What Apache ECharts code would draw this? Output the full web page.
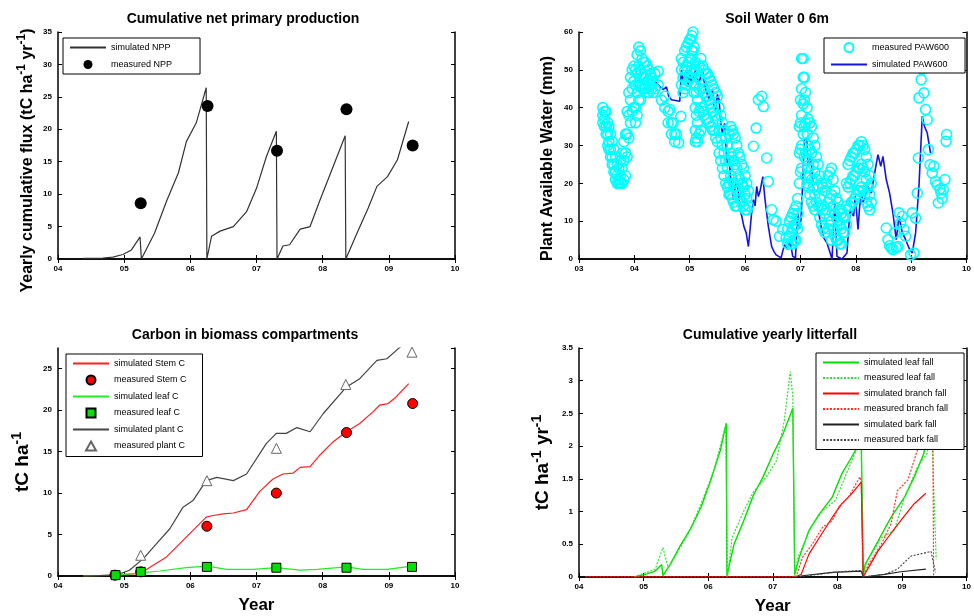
<!DOCTYPE html>
<html>
<head>
<meta charset="utf-8">
<script src="https://cdn.jsdelivr.net/npm/echarts@6/dist/echarts.min.js"></script>
<style>
  html, body { margin: 0; padding: 0; background: #fff; }
  #chart { width: 974px; height: 616px; }
</style>
</head>
<body>
<div id="chart"></div>
<script>
// tick labels
const yearTicks = ['04', '05', '06', '07', '08', '09', '10'];      // 2004..2010
const yearTicksSoil = ['03', '04', '05', '06', '07', '08', '09', '10']; // 2003..2010

// --- Cumulative net primary production ---
const nppSim = [
  [2004.38, 0.1], [2004.68, 0.15], [2004.83, 0.3], [2004.98, 0.7], [2005.11, 1.4], [2005.24, 3.4], [2005.26, 0],
  [2005.46, 4.0], [2005.64, 8.9], [2005.82, 13.3], [2005.94, 18.1], [2006.09, 21.0], [2006.24, 26.4], [2006.25, 0],
  [2006.32, 3.5], [2006.45, 4.3], [2006.65, 5.0], [2006.85, 7.3], [2007.0, 10.9], [2007.15, 15.8], [2007.30, 19.7], [2007.31, 0],
  [2007.40, 2.0], [2007.50, 2.2], [2007.66, 4.6], [2007.81, 5.0], [2007.96, 9.1], [2008.11, 13.0], [2008.34, 19.0], [2008.35, 0],
  [2008.52, 4.0], [2008.69, 7.9], [2008.82, 11.2], [2008.98, 12.7], [2009.13, 15.3], [2009.30, 21.2]
];
const nppMeas = [[2005.25, 8.6], [2006.26, 23.6], [2007.31, 16.7], [2008.36, 23.1], [2009.36, 17.5]];

// --- Soil water 0-6 m (PAW, mm) ---
const pawSim = [
  [2004.37, 47.0], [2004.46, 45.6], [2004.52, 44.8], [2004.58, 45.5], [2004.62, 43.0], [2004.67, 42.1], [2004.82, 41.7],
  [2004.85, 50.0], [2004.88, 47.0], [2004.91, 48.3], [2004.94, 50.0], [2004.97, 45.6], [2005.00, 50.0], [2005.03, 46.5],
  [2005.05, 47.4], [2005.11, 50.0], [2005.16, 46.1], [2005.23, 50.0], [2005.26, 47.0], [2005.29, 44.8], [2005.35, 42.1],
  [2005.41, 44.8], [2005.44, 40.5], [2005.47, 39.5], [2005.50, 43.5], [2005.53, 42.1], [2005.56, 36.0],
  [2005.59, 33.3], [2005.63, 35.9], [2005.66, 29.0], [2005.68, 25.4], [2005.71, 27.0], [2005.74, 21.0], [2005.77, 18.5],
  [2005.79, 15.7], [2005.84, 21.4], [2005.88, 17.4], [2005.91, 13.0], [2005.94, 11.3], [2005.98, 8.5], [2006.02, 6.9],
  [2006.06, 3.3], [2006.09, 7.8], [2006.12, 12.5], [2006.15, 15.7], [2006.18, 14.0], [2006.21, 19.2], [2006.24, 16.5],
  [2006.27, 17.9], [2006.32, 21.8], [2006.36, 15.7], [2006.42, 8.6], [2006.48, 3.3], [2006.52, 2.0], [2006.56, 1.1],
  [2006.65, 0.3], [2006.71, 3.8], [2006.77, 2.5], [2006.81, 5.1], [2006.86, 0.7], [2006.91, 0.3], [2006.95, 12.2],
  [2006.98, 8.0], [2007.01, 10.4], [2007.04, 20.0], [2007.07, 31.5], [2007.11, 32.0], [2007.14, 24.5], [2007.19, 27.1],
  [2007.22, 20.5], [2007.25, 17.4], [2007.29, 14.0], [2007.33, 12.2], [2007.38, 8.0], [2007.42, 5.6], [2007.48, 4.2],
  [2007.57, 0], [2007.62, 14.8], [2007.66, 0.7], [2007.75, 0], [2007.84, 1.6], [2007.87, 8.0], [2007.90, 13.0],
  [2007.96, 11.3], [2007.99, 16.6], [2008.04, 7.8], [2008.07, 14.0], [2008.10, 17.4], [2008.13, 15.0], [2008.16, 16.1],
  [2008.22, 19.2], [2008.28, 17.4], [2008.34, 22.7], [2008.40, 27.6], [2008.45, 24.5], [2008.49, 27.1], [2008.55, 21.0],
  [2008.61, 17.4], [2008.67, 12.2], [2008.73, 5.1], [2008.78, 11.3], [2008.84, 6.9], [2008.90, 5.1], [2008.96, 2.9],
  [2009.02, 1.6], [2009.08, 6.9], [2009.14, 19.2], [2009.20, 37.7], [2009.24, 35.1], [2009.29, 33.3], [2009.35, 28.0]
];
// each row: year, then the readings seen at that date
const pawMeasRows = [
  [2003.43, 40, 38, 36], [2003.46, 39, 37, 35], [2003.49, 39, 35, 33], [2003.52, 36, 33, 30], [2003.54, 35, 31, 29],
  [2003.57, 33, 29, 27], [2003.60, 31, 27, 25], [2003.63, 29, 25, 23], [2003.66, 27, 23, 21], [2003.69, 25, 22, 20],
  [2003.72, 24, 21, 20], [2003.75, 26, 22, 20], [2003.78, 28, 24, 20], [2003.81, 31, 26, 21], [2003.84, 33, 28, 22],
  [2003.87, 39, 33, 27], [2003.90, 44, 38, 32], [2003.93, 48, 42, 36], [2003.96, 50, 45, 39], [2003.99, 51, 47, 40],
  [2004.02, 50, 46, 40, 36], [2004.05, 54, 49, 44, 38], [2004.08, 56, 51, 46, 42], [2004.11, 55, 50, 46, 42],
  [2004.14, 53, 48, 45], [2004.17, 52, 48, 45], [2004.20, 52, 48, 45], [2004.23, 51, 47, 44], [2004.26, 50, 47, 44],
  [2004.29, 49, 46], [2004.31, 48, 45], [2004.34, 47, 44], [2004.37, 49, 45], [2004.43, 49.6, 46], [2004.49, 42],
  [2004.55, 43, 40], [2004.61, 39, 36], [2004.64, 39.5], [2004.67, 36, 33], [2004.70, 36], [2004.73, 33, 31],
  [2004.76, 33], [2004.80, 30.7], [2004.84, 37.7], [2004.85, 50, 46, 53], [2004.88, 52, 48, 44], [2004.91, 55, 50, 45],
  [2004.94, 56, 51, 46], [2004.97, 57, 52, 47], [2005.00, 58, 53, 48], [2005.02, 58, 53, 48], [2005.04, 59, 55, 50],
  [2005.06, 60, 55, 49], [2005.08, 56, 50, 44], [2005.10, 52, 46, 40, 34, 31], [2005.12, 50, 44, 38, 32],
  [2005.14, 48, 42, 36, 31], [2005.17, 51, 45, 39, 33], [2005.20, 53, 47, 40, 34], [2005.23, 51, 45, 39],
  [2005.26, 50, 44, 38], [2005.29, 49, 43, 37], [2005.32, 49, 43, 37], [2005.35, 48, 42, 36], [2005.38, 47, 41, 35],
  [2005.41, 46, 40, 34], [2005.44, 45, 39, 34], [2005.47, 44, 38, 32], [2005.50, 43, 37, 31], [2005.53, 40, 34, 28],
  [2005.56, 38, 32, 26], [2005.59, 36, 30, 24], [2005.62, 34, 28, 22], [2005.65, 32, 26, 20], [2005.68, 30, 24, 19],
  [2005.71, 33, 26, 20, 17], [2005.74, 35, 28, 22, 17], [2005.77, 34, 27, 21, 16], [2005.79, 33, 26, 20, 15],
  [2005.82, 32, 25, 19, 14], [2005.85, 30, 24, 18, 14], [2005.88, 28, 22, 17], [2005.91, 27, 21, 16],
  [2005.94, 25, 20, 15], [2005.97, 24, 19, 14], [2006.00, 22, 17, 13], [2006.03, 20, 16, 13], [2006.06, 18, 14],
  [2006.15, 29.8], [2006.20, 34.6], [2006.24, 42.1], [2006.30, 43.0], [2006.33, 40.3], [2006.39, 26.7], [2006.42, 20.5],
  [2006.48, 13.0], [2006.51, 10.4], [2006.56, 10.0], [2006.62, 6.0], [2006.68, 7.8], [2006.74, 5.6], [2006.77, 8, 4],
  [2006.80, 10, 6], [2006.83, 11, 7, 4], [2006.86, 12, 8, 4], [2006.89, 13, 9, 5], [2006.92, 14, 9, 5],
  [2006.95, 16, 12, 8], [2006.98, 35, 28, 20], [2007.00, 42, 36, 29, 23], [2007.02, 53, 45, 38, 30, 24],
  [2007.05, 53, 48, 41, 33], [2007.07, 48, 42, 35, 27], [2007.09, 44, 36, 28, 22], [2007.12, 40, 33, 26, 20],
  [2007.14, 37, 30, 24, 19], [2007.17, 36, 29, 22, 17], [2007.20, 35, 28, 21, 15], [2007.23, 32, 25, 19, 14],
  [2007.26, 30, 23, 17, 13], [2007.29, 27, 21, 15], [2007.32, 25, 19, 14], [2007.35, 22, 16, 11], [2007.38, 20, 14, 9],
  [2007.41, 19, 13, 8], [2007.44, 18, 12, 7], [2007.47, 20, 13, 7], [2007.50, 22, 15, 8], [2007.53, 23, 16, 9],
  [2007.56, 24, 17, 10, 5], [2007.59, 21, 14, 8], [2007.62, 18, 12, 6], [2007.65, 16, 11, 5], [2007.68, 15, 10, 5],
  [2007.71, 13, 9, 4], [2007.74, 12, 8, 4], [2007.77, 11, 7], [2007.80, 11, 7], [2007.83, 20, 14, 9],
  [2007.86, 25, 19, 13], [2007.89, 26, 20, 14], [2007.92, 27, 21, 15], [2007.95, 28, 22, 15], [2007.98, 28, 22, 16],
  [2008.01, 29, 23, 17], [2008.04, 30, 24, 18], [2008.07, 30, 24, 18], [2008.10, 31, 25, 19], [2008.13, 30, 24, 18],
  [2008.16, 29, 23, 17], [2008.19, 27, 21, 15], [2008.22, 25, 19, 14], [2008.25, 22, 17, 13], [2008.28, 20, 15],
  [2008.55, 8.2], [2008.58, 5.1], [2008.61, 3.5], [2008.64, 2.9], [2008.67, 2.5], [2008.70, 6.9], [2008.73, 3.0],
  [2008.76, 3.3], [2008.78, 12.2], [2008.81, 9.5], [2008.84, 11.3], [2008.87, 7.8], [2008.90, 6.0], [2008.99, 1.1],
  [2009.02, 12.2], [2009.05, 1.6], [2009.08, 10.8], [2009.11, 17.4], [2009.13, 26.7], [2009.14, 42.6], [2009.18, 47.4],
  [2009.20, 50.2], [2009.23, 43.9], [2009.26, 39.5], [2009.29, 36.8], [2009.31, 28.9], [2009.34, 24.9], [2009.38, 22.7],
  [2009.41, 24.5], [2009.44, 20.5], [2009.47, 19.6], [2009.49, 14.8], [2009.52, 18.5], [2009.54, 17.4], [2009.56, 16.0],
  [2009.58, 18.3], [2009.61, 21.0], [2009.63, 31.1], [2009.64, 32.9]
];

// --- Carbon in biomass compartments (tC/ha) ---
const stemSim = [
  [2004.38, 0], [2004.88, 0.1], [2005.24, 0.3], [2005.44, 1.3], [2005.64, 2.3], [2005.84, 3.9], [2006.04, 5.5],
  [2006.24, 7.1], [2006.34, 7.3], [2006.50, 7.5], [2006.65, 7.6], [2006.85, 8.0], [2007.05, 10.2], [2007.25, 11.7],
  [2007.40, 12.3], [2007.55, 12.4], [2007.66, 13.1], [2007.81, 13.2], [2007.96, 14.6], [2008.16, 16.2], [2008.36, 17.4],
  [2008.56, 18.4], [2008.76, 19.8], [2008.86, 20.6], [2008.99, 20.8], [2009.11, 21.6], [2009.30, 23.2]
];
const stemMeas = [[2004.86, 0.1], [2005.25, 0.5], [2006.25, 6.0], [2007.30, 10.0], [2008.36, 17.3], [2009.36, 20.8]];
const leafSim = [
  [2004.38, 0], [2004.88, 0.1], [2005.29, 0.4], [2005.54, 0.6], [2005.94, 1.0], [2006.25, 1.2], [2006.55, 0.8],
  [2006.95, 0.8], [2007.30, 1.0], [2007.66, 0.7], [2007.91, 0.8], [2008.36, 1.1], [2008.61, 0.8], [2008.97, 0.8],
  [2009.35, 1.2]
];
const leafMeas = [[2004.87, 0.1], [2005.25, 0.5], [2006.25, 1.1], [2007.30, 1.0], [2008.36, 1.0], [2009.35, 1.1]];
const plantSim = [
  [2004.38, 0], [2004.88, 0.1], [2005.08, 0.7], [2005.29, 2.1], [2005.49, 3.9], [2005.69, 5.7], [2005.89, 8.3],
  [2006.04, 9.1], [2006.24, 11.5], [2006.40, 11.9], [2006.65, 11.5], [2006.85, 12.3], [2007.15, 16.0], [2007.30, 17.2],
  [2007.45, 17.2], [2007.61, 17.9], [2007.81, 17.4], [2008.01, 19.6], [2008.36, 22.8], [2008.56, 23.8], [2008.82, 26.0],
  [2008.97, 26.2], [2009.14, 27.4], [2009.30, 28.4]
];
const plantMeas = [[2005.25, 2.5], [2006.25, 11.5], [2007.30, 15.4], [2008.35, 23.1], [2009.35, 27.0]];

// --- Cumulative yearly litterfall (tC/ha/yr) ---
const leafFallSim = [
  [2004.85, 0], [2005.03, 0.04], [2005.18, 0.09], [2005.28, 0.19], [2005.30, 0.02], [2005.41, 0.19], [2005.58, 0.50],
  [2005.74, 0.76], [2005.89, 1.07], [2006.04, 1.48], [2006.19, 1.94], [2006.28, 2.35], [2006.29, 0.02],
  [2006.40, 0.50], [2006.55, 0.86], [2006.70, 1.25], [2006.85, 1.53], [2007.01, 1.89], [2007.16, 2.19], [2007.31, 2.58],
  [2007.34, 0.04], [2007.41, 0.30], [2007.56, 0.71], [2007.72, 0.96], [2007.92, 1.22], [2008.07, 1.58], [2008.22, 1.83],
  [2008.37, 2.10], [2008.40, 0.02], [2008.43, 0.19], [2008.63, 0.55], [2008.83, 0.91], [2009.04, 1.22], [2009.19, 1.53],
  [2009.34, 1.89], [2009.40, 2.30]
];
const leafFallMeas = [
  [2004.85, 0], [2005.18, 0.12], [2005.30, 0.45], [2005.38, 0.14], [2005.48, 0.30], [2005.69, 0.66], [2005.89, 1.12],
  [2006.09, 1.63], [2006.27, 2.32], [2006.30, 0], [2006.37, 0.60], [2006.55, 1.01], [2006.70, 1.30], [2006.90, 1.53],
  [2007.06, 1.78], [2007.18, 2.40], [2007.27, 3.14], [2007.31, 2.76], [2007.34, 0], [2007.39, 0.30], [2007.59, 0.76],
  [2007.77, 1.01], [2007.97, 1.17], [2008.12, 1.53], [2008.27, 1.89], [2008.37, 2.04], [2008.39, 0], [2008.45, 0.22],
  [2008.68, 0.60], [2008.88, 0.71], [2009.04, 1.22], [2009.24, 1.68], [2009.39, 1.89], [2009.46, 2.30], [2009.52, 0.55],
  [2009.53, 0.27]
];
const branchFallSim = [
  [2004.10, 0], [2007.35, 0], [2007.44, 0.04], [2007.56, 0.35], [2007.72, 0.60], [2007.92, 0.91], [2008.07, 1.12],
  [2008.22, 1.27], [2008.37, 1.45], [2008.40, 0], [2008.48, 0.14], [2008.63, 0.40], [2008.78, 0.60], [2008.98, 0.86],
  [2009.19, 1.12], [2009.37, 1.28]
];
const branchFallMeas = [
  [2004.10, 0], [2007.36, 0], [2007.46, 0.30], [2007.61, 0.50], [2007.77, 0.76], [2007.92, 0.86], [2008.02, 1.07],
  [2008.17, 1.22], [2008.35, 1.53], [2008.37, 1.42], [2008.40, 0], [2008.48, 0.19], [2008.68, 0.50], [2008.83, 0.81],
  [2008.93, 1.32], [2009.09, 1.48], [2009.24, 1.94], [2009.47, 2.14], [2009.48, 1.94], [2009.49, 0]
];
const barkFallSim = [
  [2007.40, 0], [2007.46, 0.02], [2007.92, 0.07], [2008.37, 0.09], [2008.40, 0], [2008.73, 0.04], [2008.98, 0.08],
  [2009.37, 0.12]
];
const barkFallMeas = [
  [2007.36, 0], [2007.72, 0.04], [2008.02, 0.08], [2008.37, 0.10], [2008.40, 0], [2008.73, 0.04], [2008.93, 0.12],
  [2009.14, 0.32], [2009.45, 0.39], [2009.52, 0.07]
];

const pawMeas = [];
pawMeasRows.forEach(function (r) {
  for (let i = 1; i < r.length; i++) pawMeas.push([r[0], r[i]]);
});

const FONT = 'Liberation Sans, Arial, sans-serif';
const grids = [
  { left: 58, top: 32, width: 397, height: 227 },
  { left: 579, top: 32, width: 395, height: 227 },
  { left: 58, top: 348, width: 397, height: 228 },
  { left: 579, top: 348, width: 395, height: 229 }
];

const tickLabel = { fontSize: 8, fontWeight: 'bold', color: '#000', fontFamily: FONT, margin: 6 };
const frameLine = { show: true, lineStyle: { color: '#000', width: 1.5 } };
const tick = { show: true, inside: true, length: 4, lineStyle: { color: '#000', width: 1 } };

const xAxes = [];
const yAxes = [];
function addAxes(gi, xr, yr, ticks, xName, yName, yNameSize, yNamePad, yNameGap) {
  xAxes.push({
    type: 'value', gridIndex: gi, position: 'bottom', min: xr[0], max: xr[1], interval: 1,
    axisLine: frameLine, axisTick: tick, splitLine: { show: false },
    axisLabel: Object.assign({}, tickLabel, { formatter: function (v) { return ticks[Math.round(v) - xr[0]]; } }),
    name: xName, nameLocation: 'middle', nameGap: 21,
    nameTextStyle: { fontSize: 17, fontWeight: 'bold', color: '#000', fontFamily: FONT }
  });
  xAxes.push({
    type: 'value', gridIndex: gi, position: 'top', min: xr[0], max: xr[1], interval: 1,
    axisLine: frameLine, axisTick: tick, axisLabel: { show: false }, splitLine: { show: false }
  });
  yAxes.push({
    type: 'value', gridIndex: gi, position: 'left', min: yr[0], max: yr[1], interval: yr[2],
    axisLine: frameLine, axisTick: tick, splitLine: { show: false },
    axisLabel: Object.assign({}, tickLabel, { showMaxLabel: yr[3] !== false }),
    name: yName, nameLocation: 'middle', nameGap: yNameGap,
    nameTextStyle: {
      fontSize: yNameSize, fontWeight: 'bold', color: '#000', fontFamily: FONT, padding: yNamePad,
      rich: { sup: { fontSize: Math.round(yNameSize * 0.72), fontWeight: 'bold', color: '#000', fontFamily: FONT, verticalAlign: 'top', lineHeight: yNameSize + 7 } }
    }
  });
  yAxes.push({
    type: 'value', gridIndex: gi, position: 'right', min: yr[0], max: yr[1], interval: yr[2],
    axisLine: frameLine, axisTick: tick, axisLabel: { show: false }, splitLine: { show: false }
  });
}
addAxes(0, [2004, 2010], [0, 35, 5], yearTicks, '', 'Yearly cumulative flux (tC ha{sup|-1} yr{sup|-1})', 16, [0, 30, 0, 0], 19);
addAxes(1, [2003, 2010], [0, 60, 10], yearTicksSoil, '', 'Plant Available Water (mm)', 16, [0, 26, 0, 0], 23);
addAxes(2, [2004, 2010], [0, 27.5, 5, false], yearTicks, 'Year', 'tC ha{sup|-1}', 19, [0, 0, 0, 0], 22);
addAxes(3, [2004, 2010], [0, 3.5, 0.5], yearTicks, 'Year', 'tC ha{sup|-1} yr{sup|-1}', 19, [0, 0, 0, 0], 23);

function line(name, gi, data, color, width, dotted) {
  return {
    name: name, type: 'line', xAxisIndex: gi * 2, yAxisIndex: gi * 2, data: data,
    symbol: 'none', clip: true, z: 2,
    lineStyle: { color: color, width: width, type: dotted ? [2, 1.5] : 'solid' },
    itemStyle: { color: color, opacity: 0 }
  };
}
function scatter(name, gi, data, symbol, size, fill, border, bw) {
  return {
    name: name, type: 'scatter', xAxisIndex: gi * 2, yAxisIndex: gi * 2, data: data,
    symbol: symbol, symbolSize: size, z: 3,
    itemStyle: { color: fill, borderColor: border, borderWidth: bw, opacity: 1 }
  };
}

const SQUARE = 'path://M0,0L10,0L10,10L0,10Z';
const TRIANGLE = 'path://M5,0L10,9L0,9Z';

const legendText = { fontSize: 9, color: '#000', fontFamily: FONT };
function legend(left, top, names, pad, gap) {
  return {
    left: left, top: top, orient: 'vertical', data: names, itemWidth: 36, itemHeight: 9, itemGap: gap,
    backgroundColor: '#fff', borderColor: '#000', borderWidth: 1, padding: pad,
    textStyle: legendText, selectedMode: false, z: 10
  };
}

const titleStyle = { fontSize: 14, fontWeight: 'bold', color: '#000', fontFamily: FONT };

const option = {
  animation: false,
  backgroundColor: '#fff',
  title: [
    { text: 'Cumulative net primary production', left: 238, top: 7, textAlign: 'center', textStyle: titleStyle },
    { text: 'Soil Water 0 6m', left: 772, top: 7, textAlign: 'center', textStyle: titleStyle },
    { text: 'Carbon in biomass compartments', left: 240, top: 323, textAlign: 'center', textStyle: titleStyle },
    { text: 'Cumulative yearly litterfall', left: 765, top: 323, textAlign: 'center', textStyle: titleStyle }
  ],
  grid: grids,
  xAxis: xAxes,
  yAxis: yAxes,
  legend: [
    legend(63, 38, ['simulated NPP', 'measured NPP'], [5, 28, 5, 6], 8),
    legend(824, 38, ['measured PAW600', 'simulated PAW600'], [4, 16, 4, 6], 7),
    legend(66, 354, ['simulated Stem C', 'measured Stem C', 'simulated leaf C',
      { name: 'measured leaf C', icon: SQUARE }, 'simulated plant C', { name: 'measured plant C', icon: TRIANGLE }], [5, 16, 5, 6], 6.5),
    legend(816, 353, ['simulated leaf fall', 'measured leaf fall', 'simulated branch fall', 'measured branch fall', 'simulated bark fall', 'measured bark fall'], [5, 16, 5, 6], 6.5)
  ],
  series: [
    line('simulated NPP', 0, nppSim, '#333', 1.2),
    scatter('measured NPP', 0, nppMeas, 'circle', 12, '#000', '#000', 0),

    scatter('measured PAW600', 1, pawMeas, 'circle', 10, 'rgba(255,255,255,0)', '#00ffff', 1.6),
    line('simulated PAW600', 1, pawSim, '#1414e6', 1.6),

    line('simulated Stem C', 2, stemSim, '#ff2020', 1.2),
    scatter('measured Stem C', 2, stemMeas, 'circle', 10, '#ff0000', '#000', 1),
    line('simulated leaf C', 2, leafSim, '#20ee20', 1.2),
    scatter('measured leaf C', 2, leafMeas, SQUARE, 9, '#00e000', '#000', 1),
    line('simulated plant C', 2, plantSim, '#444', 1.2),
    scatter('measured plant C', 2, plantMeas, TRIANGLE, 10, '#fff', '#666', 1),

    line('simulated leaf fall', 3, leafFallSim, '#00e000', 1.4),
    line('measured leaf fall', 3, leafFallMeas, '#30e030', 1.2, true),
    line('simulated branch fall', 3, branchFallSim, '#ff0000', 1.2),
    line('measured branch fall', 3, branchFallMeas, '#ff3030', 1.2, true),
    line('simulated bark fall', 3, barkFallSim, '#222', 1.1),
    line('measured bark fall', 3, barkFallMeas, '#444', 1.1, true)
  ]
};

const chart = echarts.init(document.getElementById('chart'));
chart.setOption(option);
</script>
</body>
</html>
